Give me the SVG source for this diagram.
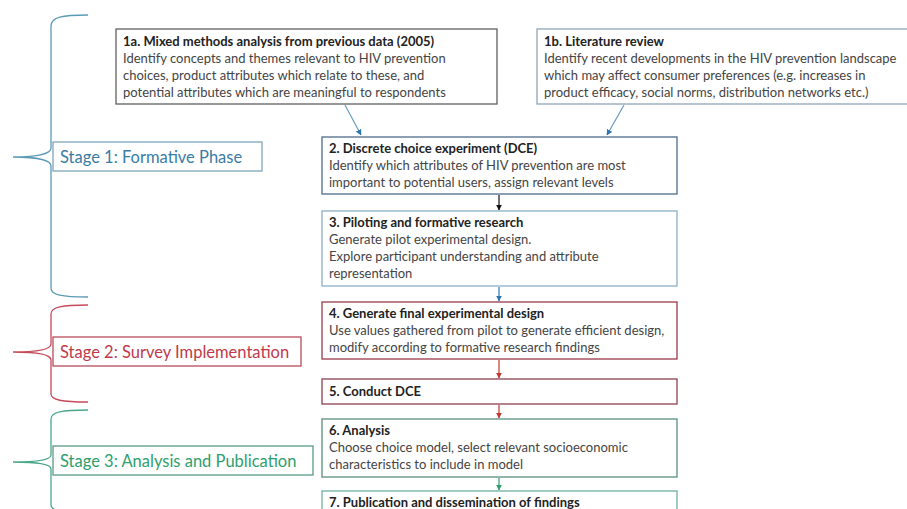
<svg xmlns="http://www.w3.org/2000/svg" width="907" height="509" viewBox="0 0 907 509">
<style>
  .t { font-family: Lato, "Liberation Sans", sans-serif; font-size: 13px; fill: #444; }
  .b { font-weight: bold; fill: #222; }
  .box { fill: #fff; stroke-width: 1.3; }
  .stage { font-family: Lato, "Liberation Sans", sans-serif; font-size: 16.5px; }
  .brace { fill: none; stroke-width: 1.3; }
</style>
<defs>
  <marker id="ab" viewBox="0 0 10 10" refX="9" refY="5" markerWidth="5" markerHeight="5" orient="auto"><path d="M0,0 L10,5 L0,10 z" fill="#2f75b5"/></marker>
  <marker id="ak" viewBox="0 0 10 10" refX="9" refY="5" markerWidth="5" markerHeight="5" orient="auto"><path d="M0,0 L10,5 L0,10 z" fill="#111"/></marker>
  <marker id="ar" viewBox="0 0 10 10" refX="9" refY="5" markerWidth="5" markerHeight="5" orient="auto"><path d="M0,0 L10,5 L0,10 z" fill="#c0392b"/></marker>
  <marker id="ag" viewBox="0 0 10 10" refX="9" refY="5" markerWidth="5" markerHeight="5" orient="auto"><path d="M0,0 L10,5 L0,10 z" fill="#2e9e6e"/></marker>
</defs>
<rect width="907" height="509" fill="#fff"/>

<g id="stage1">
  <path class="brace" stroke="#5b9bb5" d="M88,15 C62,15 51,17 51,26 V148 C51,153 40,157 13,157 C40,157 51,161 51,166 V288 C51,295 62,297 88,297"/>
  <rect class="box" x="53" y="142" width="209" height="29" stroke="#7fa5bd"/>
  <text class="stage" x="60" y="163" fill="#3a7ca5">Stage 1: Formative Phase</text>
</g>
<g id="stage2">
  <path class="brace" stroke="#c74a5a" d="M88,305 C62,305 51,307 51,314 V344 C51,349 40,352 13,352 C40,352 51,355 51,360 V394 C51,400 62,402 88,402"/>
  <rect class="box" x="53" y="337" width="248" height="29" stroke="#b84a5a"/>
  <text class="stage" x="60" y="358" fill="#c0394b">Stage 2: Survey Implementation</text>
</g>
<g id="stage3">
  <path class="brace" stroke="#4aa88a" d="M88,410 C62,410 51,412 51,419 V455 C51,459 40,462 13,462 C40,462 51,465 51,469 V505 C51,511 62,513 88,513"/>
  <rect class="box" x="53" y="446" width="260" height="29" stroke="#5a9a88"/>
  <text class="stage" x="60" y="467" fill="#2e9e6e">Stage 3: Analysis and Publication</text>
</g>

<g id="connectors" fill="none" stroke-width="1.2">
  <line x1="345" y1="105" x2="361" y2="135" stroke="#6a9ac0" marker-end="url(#ab)"/>
  <line x1="624" y1="105" x2="607" y2="135" stroke="#6a9ac0" marker-end="url(#ab)"/>
  <line x1="499" y1="195" x2="499" y2="210" stroke="#111" marker-end="url(#ak)"/>
  <line x1="499" y1="287" x2="499" y2="301" stroke="#2f75b5" marker-end="url(#ab)"/>
  <line x1="499" y1="360" x2="499" y2="378" stroke="#c0392b" marker-end="url(#ar)"/>
  <line x1="499" y1="405" x2="499" y2="418" stroke="#c0392b" marker-end="url(#ar)"/>
  <line x1="499" y1="478" x2="499" y2="490" stroke="#2e9e6e" marker-end="url(#ag)"/>
</g>

<g id="n1a">
  <rect class="box" x="116" y="29" width="381" height="75" stroke="#606060"/>
  <text class="t b" x="123" y="46">1a. Mixed methods analysis from previous data (2005)</text>
  <text class="t" x="123" y="63">Identify concepts and themes relevant to HIV prevention</text>
  <text class="t" x="123" y="80">choices, product attributes which relate to these, and</text>
  <text class="t" x="123" y="97">potential attributes which are meaningful to respondents</text>
</g>
<g id="n1b">
  <rect class="box" x="537" y="29" width="380" height="75" stroke="#8fa5b5"/>
  <text class="t b" x="544" y="46">1b. Literature review</text>
  <text class="t" x="544" y="63">Identify recent developments in the HIV prevention landscape</text>
  <text class="t" x="544" y="80">which may affect consumer preferences (e.g. increases in</text>
  <text class="t" x="544" y="97">product efficacy, social norms, distribution networks etc.)</text>
</g>
<g id="n2">
  <rect class="box" x="322" y="137" width="355" height="57" stroke="#4f6b8a"/>
  <text class="t b" x="329" y="153">2. Discrete choice experiment (DCE)</text>
  <text class="t" x="329" y="170">Identify which attributes of HIV prevention are most</text>
  <text class="t" x="329" y="187">important to potential users, assign relevant levels</text>
</g>
<g id="n3">
  <rect class="box" x="322" y="211" width="355" height="75" stroke="#8ab0c8"/>
  <text class="t b" x="329" y="227">3. Piloting and formative research</text>
  <text class="t" x="329" y="244">Generate pilot experimental design.</text>
  <text class="t" x="329" y="261">Explore participant understanding and attribute</text>
  <text class="t" x="329" y="278">representation</text>
</g>
<g id="n4">
  <rect class="box" x="322" y="302" width="355" height="57" stroke="#9a3a4a"/>
  <text class="t b" x="329" y="318">4. Generate final experimental design</text>
  <text class="t" x="329" y="335">Use values gathered from pilot to generate efficient design,</text>
  <text class="t" x="329" y="352">modify according to formative research findings</text>
</g>
<g id="n5">
  <rect class="box" x="322" y="379" width="355" height="25" stroke="#8a4050"/>
  <text class="t b" x="329" y="396">5. Conduct DCE</text>
</g>
<g id="n6">
  <rect class="box" x="322" y="419" width="355" height="58" stroke="#5a9080"/>
  <text class="t b" x="329" y="435">6. Analysis</text>
  <text class="t" x="329" y="452">Choose choice model, select relevant socioeconomic</text>
  <text class="t" x="329" y="469">characteristics to include in model</text>
</g>
<g id="n7">
  <rect class="box" x="322" y="491" width="355" height="30" stroke="#70b0a0"/>
  <text class="t b" x="329" y="507">7. Publication and dissemination of findings</text>
</g>
</svg>
